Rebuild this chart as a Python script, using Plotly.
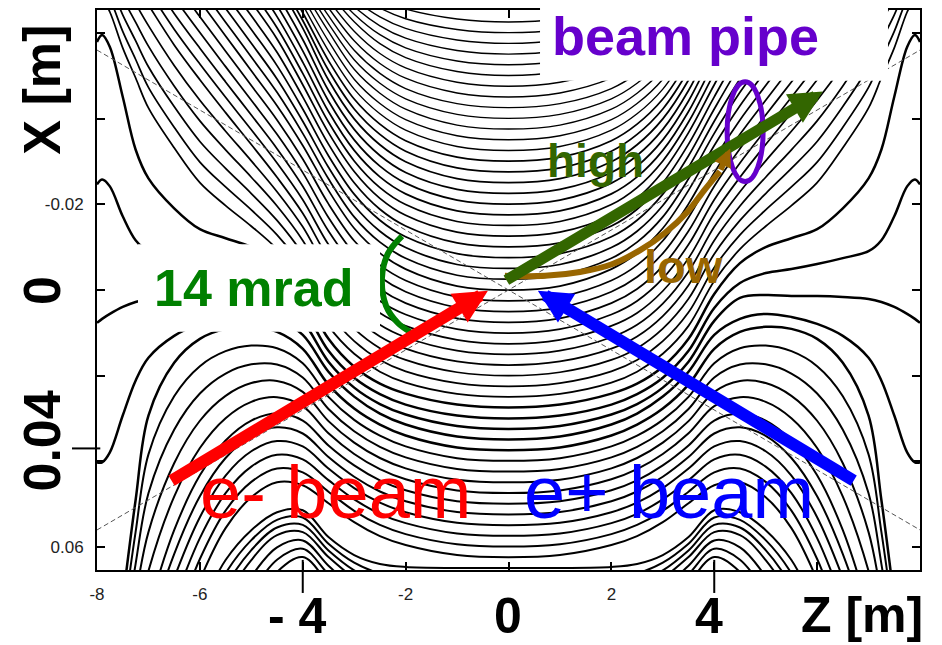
import plotly.graph_objects as go

# ---------------- data ----------------
# z positions (m) of the sampling columns; the field map is mirror symmetric in z
Z_NODES = [0, 1, 2, 2.5, 3, 3.5, 4, 4.5, 5, 5.5, 6, 6.5, 7, 7.25, 7.5, 7.75, 7.9, 8]

# transverse position X (mm) of selected field lines at each z column (z >= 0)
LINE_K00 = [-62.56, -63.26, -65.58, -67.91, -71.40, -76.51, -83.49, -91.63, -99.77, -109.1, -118.4, -127.7, -137.0, -141.6, -146.3, -150.9, -153.3, -155.6]
LINE_K05 = [-50.06, -50.99, -54.24, -57.50, -62.62, -69.53, -77.91, -87.44, -96.28, -105.6, -114.9, -124.2, -133.5, -138.1, -142.8, -147.4, -149.8, -152.1]
LINE_K10 = [-37.56, -38.49, -42.21, -45.93, -51.51, -60.35, -70.12, -80.00, -89.30, -98.60, -107.9, -117.2, -126.5, -131.2, -135.8, -140.5, -142.8, -145.1]
LINE_K15 = [-25.06, -25.99, -29.94, -33.90, -39.94, -49.01, -61.10, -71.63, -81.16, -90.47, -99.77, -109.1, -118.4, -123.0, -127.7, -132.3, -134.7, -137.0]
LINE_K20 = [-12.56, -13.49, -17.44, -21.40, -27.67, -36.74, -47.91, -58.60, -67.20, -75.35, -83.50, -91.60, -99.80, -104.4, -109.1, -113.7, -116.0, -118.4]
LINE_K25 = [0.0, -0.93, -4.88, -8.60, -14.42, -23.26, -33.72, -43.02, -51.16, -59.30, -67.44, -75.58, -83.72, -88.14, -92.79, -97.44, -99.77, -102.1]
LINE_K30 = [12.56, 11.63, 8.37, 5.35, 0.23, -7.44, -17.90, -26.30, -33.95, -41.40, -49.07, -57.21, -66.51, -71.16, -75.81, -80.47, -82.79, -85.12]
LINE_K35 = [24.94, 24.24, 21.63, 19.07, 14.88, 8.37, -2.09, -9.53, -14.88, -19.71, -25.06, -33.20, -42.50, -49.53, -56.51, -64.88, -68.14, -69.53]
LINE_K36 = [27.44, 26.74, 24.19, 21.86, 17.91, 11.40, 0.93, -6.28, -10.0, -12.09, -14.19, -19.07, -26.05, -32.79, -45.12, -56.74, -59.53, -57.91]
LINE_K37 = [30.0, 29.3, 26.74, 24.3, 20.47, 14.19, 4.19, -1.63, -3.95, -4.88, -6.05, -7.44, -9.07, -11.63, -17.21, -24.19, -25.81, -24.65]
LINE_K38 = [32.44, 31.74, 29.07, 26.63, 22.79, 16.74, 7.21, 1.86, 1.16, 1.40, 1.40, 1.63, 2.09, 2.79, 3.95, 5.58, 6.74, 7.67]
LINE_K39 = [34.88, 34.19, 31.40, 28.84, 24.88, 19.07, 10.47, 6.74, 5.58, 6.28, 7.91, 10.70, 15.81, 21.16, 29.30, 37.91, 40.23, 40.23]
LINE_K40 = [37.38, 36.74, 33.95, 31.40, 27.67, 22.09, 13.72, 9.77, 8.60, 9.07, 11.40, 16.98, 29.30, 49.07, 72.3, 95.6, 107, 119]
LINE_K45 = [49.88, 49.30, 46.74, 44.42, 40.93, 36.28, 30.47, 28.84, 30.47, 35.12, 43.26, 56.05, 74.65, 86.3, 100, 114, 121, 128]
LINE_K50 = [62.38, 61.86, 59.53, 57.44, 54.19, 49.77, 45.58, 44.88, 48.37, 55.58, 67.67, 83.95, 100.2, 110, 120, 130, 135, 140]
LINE_K51 = [64.88, 64.88, 64.65, 63.95, 61.86, 57.67, 51.40, 51.86, 56.05, 63.02, 74.65, 88.6, 104.9, 115, 125, 135, 140, 145]
LINE_K54 = [72.38, 72.33, 71.86, 70.47, 67.21, 62.33, 56.51, 57.21, 63.02, 72.33, 86.28, 102.6, 118.8, 125, 135, 145, 150, 155]
LINE_K57 = [79.88, 79.77, 79.30, 77.91, 74.19, 68.37, 62.33, 65.81, 74.65, 86.28, 100.2, 116.5, 132.8, 140, 150, 160, 165, 170]

N_LINES = 58  # field lines k = 0 .. 57

# beam lines (half crossing angle 7 mrad)
BEAM_Z = [-8, 8]
BEAM1_X = [-0.056, 0.056]
BEAM2_X = [0.056, -0.056]

# arrows: (z, X) of tail and tip
RED_TAIL, RED_TIP = (-6.58, 0.0447), (-0.40, 0.0002)
BLUE_TAIL, BLUE_TIP = (6.74, 0.0447), (0.57, 0.0002)
HIGH_TAIL, HIGH_TIP = (-0.07, -0.0021), (6.11, -0.0463)
LOW_PATH_Z = [-0.07, 0.71, 1.39, 2.01, 2.56, 3.04, 3.49, 3.82, 4.11]
LOW_PATH_X = [-0.0033, -0.0033, -0.0042, -0.0060, -0.0093, -0.0133, -0.0184, -0.0235, -0.0277]
LOW_TIP = (4.31, -0.0330)

# beam pipe ellipse (z range, X range)
PIPE_Z = (4.25, 4.95)
PIPE_X = (-0.0486, -0.0253)

# 14 mrad bracket
ARC_Z = [-2.07, -2.34, -2.46, -2.38, -2.15, -1.91]
ARC_X = [-0.0126, -0.0086, -0.0028, 0.0037, 0.0077, 0.0098]

X_TICKS = [-8, -6, -4, -2, 0, 2, 4, 6, 8]
X_TICKTEXT = ['-8', '-6', '', '-2', '', '2', '', '', '']
Y_TICKS = [-0.06, -0.04, -0.02, 0, 0.02, 0.04, 0.06]
Y_TICKTEXT = ['', '', '-0.02', '', '', '', '0.06']

# ---------------- build the field lines ----------------
REF = {0: LINE_K00, 5: LINE_K05, 10: LINE_K10, 15: LINE_K15, 20: LINE_K20,
       25: LINE_K25, 30: LINE_K30, 35: LINE_K35, 36: LINE_K36, 37: LINE_K37,
       38: LINE_K38, 39: LINE_K39, 40: LINE_K40, 45: LINE_K45, 50: LINE_K50,
       51: LINE_K51, 54: LINE_K54, 57: LINE_K57}
REF_K = sorted(REF)


def line_mm(k):
    if k in REF:
        return REF[k]
    a = max(r for r in REF_K if r < k)
    b = min(r for r in REF_K if r > k)
    t = (k - a) / (b - a)
    return [xa + t * (xb - xa) for xa, xb in zip(REF[a], REF[b])]


def width(k):
    if 36 <= k <= 40:
        return 2.5
    if k >= 41:
        return 2.0
    if k >= 13:
        return 1.75
    return 1.4


z_full = [-z for z in reversed(Z_NODES[1:])] + Z_NODES

fig = go.Figure()
for k in range(N_LINES):
    half = [max(-100.0, min(100.0, v)) / 1000.0 for v in line_mm(k)]
    x_full = list(reversed(half[1:])) + half
    fig.add_trace(go.Scatter(
        x=z_full, y=x_full, mode='lines',
        line=dict(color='black', width=width(k), shape='spline', smoothing=1.0),
        hoverinfo='skip', showlegend=False))

for bx in (BEAM1_X, BEAM2_X):
    fig.add_trace(go.Scatter(x=BEAM_Z, y=bx, mode='lines',
                             line=dict(color='#555555', width=1, dash='5px,3px'),
                             hoverinfo='skip', showlegend=False))

# low energy path (brown)
fig.add_trace(go.Scatter(x=LOW_PATH_Z, y=LOW_PATH_X, mode='lines',
                         line=dict(color='#996600', width=6, shape='spline'),
                         hoverinfo='skip', showlegend=False))
# 14 mrad bracket
fig.add_trace(go.Scatter(x=ARC_Z, y=ARC_X, mode='lines',
                         line=dict(color='#008000', width=6, shape='spline'),
                         hoverinfo='skip', showlegend=False))

FONT = 'Liberation Sans, Arial, Helvetica, sans-serif'

shapes = [
    # white label boxes
    dict(type='rect', xref='paper', yref='paper', x0=0.5383, x1=0.9611, y0=0.8737, y1=1.02,
         fillcolor='white', line=dict(width=0), layer='above'),
    dict(type='rect', xref='paper', yref='paper', x0=0.0498, x1=0.3439, y0=0.4253, y1=0.5819,
         fillcolor='white', line=dict(width=0), layer='above'),
    # beam pipe ellipse
    dict(type='circle', xref='x', yref='y', x0=PIPE_Z[0], x1=PIPE_Z[1], y0=PIPE_X[0], y1=PIPE_X[1],
         line=dict(color='#6600cc', width=5), layer='above'),
    # long emphasised ticks
    dict(type='line', xref='x', yref='paper', x0=-4, x1=-4, y0=0.018, y1=-0.041,
         line=dict(color='black', width=2), layer='above'),
    dict(type='line', xref='x', yref='paper', x0=4, x1=4, y0=0.018, y1=-0.041,
         line=dict(color='black', width=2), layer='above'),
    dict(type='line', xref='paper', yref='paper', x0=-0.0304, x1=0.004, y0=0.2171, y1=0.2171,
         line=dict(color='black', width=2), layer='above'),
]

annotations = []


def arrow(tail, tip, color, w, size):
    annotations.append(dict(x=tip[0], y=tip[1], ax=tail[0], ay=tail[1], xref='x', yref='y',
                            axref='x', ayref='y', text='', showarrow=True, arrowhead=2,
                            arrowsize=size, arrowwidth=w, arrowcolor=color, standoff=0))


arrow(RED_TAIL, RED_TIP, '#ff0000', 12, 0.56)
arrow(BLUE_TAIL, BLUE_TIP, '#0000ff', 12, 0.56)
arrow(HIGH_TAIL, HIGH_TIP, '#336600', 11, 0.6)
arrow((LOW_PATH_Z[-1], LOW_PATH_X[-1]), LOW_TIP, '#996600', 6, 0.6)


def label(x, y, text, size, color, xref='x', yref='y', angle=0):
    annotations.append(dict(x=x, y=y, xref=xref, yref=yref, text=text, showarrow=False,
                            textangle=angle, xanchor='center', yanchor='middle',
                            font=dict(family=FONT, size=size, color=color)))


label(3.45, -0.0593, '<b>beam pipe</b>', 54, '#6600cc')
label(1.70, -0.0300, '<b>high</b>', 46, '#336600')
label(3.41, -0.0056, '<b>low</b>', 47, '#996600')
label(-4.95, -0.0005, '<b>14 mrad</b>', 52, '#008000')
label(-3.37, 0.0472, 'e- beam', 74, '#ff0000')
label(3.12, 0.0472, 'e+ beam', 74, '#0000ff')

label(-0.0668, 0.8577, '<b>X [m]</b>', 52, 'black', 'paper', 'paper', -90)
label(-0.0668, 0.4982, '<b>0</b>', 52, 'black', 'paper', 'paper', -90)
label(-0.0668, 0.2295, '<b>0.04</b>', 52, 'black', 'paper', 'paper', -90)
label(0.2442, -0.0819, '<b>- 4</b>', 50, 'black', 'paper', 'paper')
label(0.4994, -0.0819, '<b>0</b>', 50, 'black', 'paper', 'paper')
label(0.7436, -0.0819, '<b>4</b>', 50, 'black', 'paper', 'paper')
label(0.9295, -0.0800, '<b>Z [m]</b>', 50, 'black', 'paper', 'paper')

axis_common = dict(showline=True, linecolor='black', linewidth=2, mirror='ticks',
                   ticks='inside', ticklen=8, tickwidth=1.5, tickcolor='black',
                   showgrid=False, zeroline=False,
                   tickfont=dict(family=FONT, size=17, color='#222222'))

fig.update_layout(
    width=942, height=645,
    margin=dict(l=97, r=22, t=8, b=75),
    paper_bgcolor='white', plot_bgcolor='white',
    showlegend=False, hovermode=False,
    xaxis=dict(range=[-8, 8], tickvals=X_TICKS, ticktext=X_TICKTEXT,
               ticklabelstandoff=8, **axis_common),
    yaxis=dict(range=[0.06535, -0.06535], tickvals=Y_TICKS, ticktext=Y_TICKTEXT,
               ticklabelstandoff=8, **axis_common),
    shapes=shapes,
    annotations=annotations,
)

fig.write_html('out.html')
